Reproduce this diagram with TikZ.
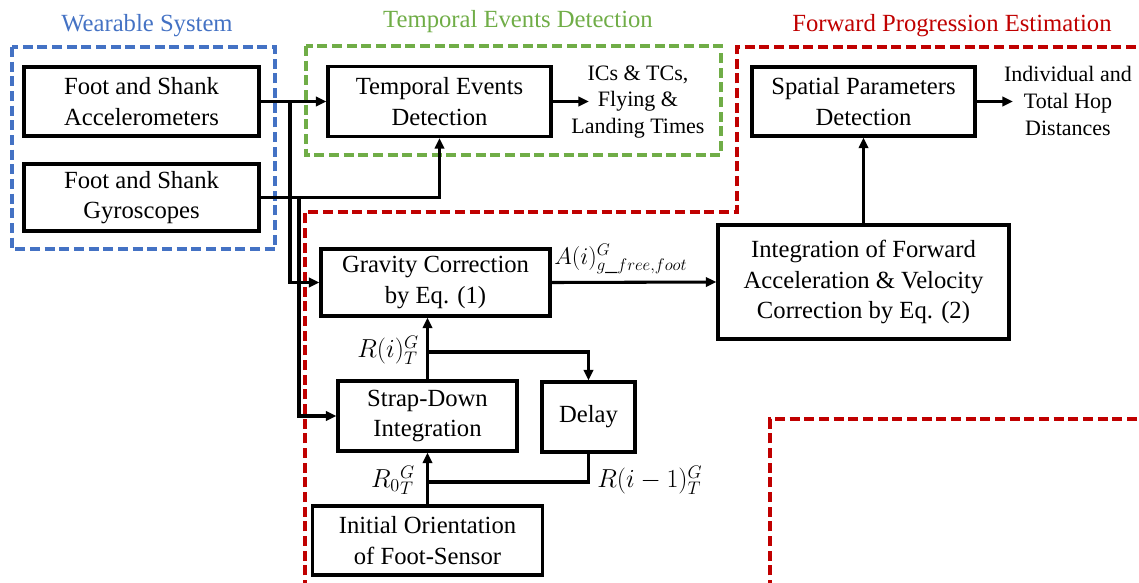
\RequirePackage{fix-cm}
\documentclass[tikz,border=0pt]{standalone}
\usepackage{fontspec}
\setmainfont{Liberation Serif}
\usetikzlibrary{arrows.meta}
\definecolor{wsblue}{HTML}{4472C4}
\definecolor{tegreen}{HTML}{70AD47}
\definecolor{fpred}{HTML}{C00000}
\tikzset{
  blk/.style={draw=black, line width=2.3pt, align=center, inner sep=0pt,
    font=\fontsize{18.5}{23}\selectfont},
  note/.style={align=center, inner sep=0pt, font=\fontsize{16.5}{20}\selectfont},
  mlab/.style={inner sep=0pt, font=\fontsize{19.5}{22}\selectfont},
  title/.style={inner sep=0pt, font=\fontsize{18.5}{23}\selectfont},
  wire/.style={line width=2.3pt, line join=miter},
  arr/.style={wire, -{Triangle[length=8pt,width=7pt]}},
  group/.style={line width=2.6pt, dash pattern=on 7.5pt off 3.5pt},
}
\begin{document}
\begin{tikzpicture}[x=0.75pt,y=-0.75pt]
\useasboundingbox (0,0) rectangle (1139,582);

% group frames
\draw[group, wsblue] (12,47) rectangle (275,249);
\draw[group, tegreen] (306,46) rectangle (721,155);
\begin{scope}
  \clip (0,0) rectangle (1139,582);
  \draw[group, fpred] (305,590) -- (305,212) -- (737,212) -- (737,47) -- (1150,47);
  \draw[group, fpred] (770,590) -- (770,419) -- (1150,419);
\end{scope}

% group titles
\node[title, text=wsblue] (tws) at (147,26) {Wearable System};
\node[title, text=tegreen] (tte) at (518,22) {Temporal Events Detection};
\node[title, text=fpred] (tfp) at (952,26) {Forward Progression Estimation};

% blocks
\node[blk, minimum width=176.25pt, minimum height=51.75pt] (acc) at (141.5,101.5) {Foot and Shank\\Accelerometers};
\node[blk, minimum width=176.25pt, minimum height=50.25pt] (gyr) at (141.5,197.5) {Foot and Shank\\Gyroscopes};
\node[blk, minimum width=167.25pt, minimum height=52.5pt] (ted) at (439.5,101.5) {Temporal Events\\Detection};
\node[blk, minimum width=167.25pt, minimum height=51.75pt] (spd) at (863.5,101.5) {Spatial Parameters\\Detection};
\node[blk, minimum width=171.75pt, minimum height=50.25pt] (grav) at (435.5,282.5) {Gravity Correction\\by Eq. (1)};
\node[blk, minimum width=218.25pt, minimum height=85.5pt] (integ) at (863.5,282) {Integration of Forward\\Acceleration \& Velocity\\Correction by Eq. (2)};
\node[blk, minimum width=134.25pt, minimum height=52.5pt] (strap) at (427.5,416) {Strap-Down\\Integration};
\node[blk, minimum width=69.75pt, minimum height=52.5pt] (delay) at (588.5,417) {Delay};
\node[blk, minimum width=172.5pt, minimum height=51.75pt] (init) at (427.5,540.5) {Initial Orientation\\of Foot-Sensor};

% outputs
\coordinate (tedout) at (589,101.5);
\node[note, anchor=center] (evts) at (638,102) {ICs \& TCs,\\Flying \&\\Landing Times};
\coordinate (spdout) at (1013,101.5);
\node[note, anchor=center] (hops) at (1068,101) {Individual and\\Total Hop\\Distances};

% junction points
\coordinate (jacc) at (290,101.5);
\coordinate (jgyr) at (299,197);
\coordinate (jrot) at (427.5,352);
\coordinate (jdel) at (427.5,482);

% connectors
\draw[arr] (acc.east) -- (ted.west);
\draw[arr] (jacc) |- (grav.west);
\draw[arr] (gyr.east) -| (ted.south);
\draw[arr] (jgyr) |- (strap.west);
\draw[arr] (ted.east) -- (tedout);
\draw[arr] (spd.east) -- (spdout);
\draw[arr] (grav.east) -- (integ.west);
\draw[arr] (integ.north) -- (spd.south);
\draw[arr] (strap.north) -- (strap.north |- grav.south);
\draw[arr] (jrot) -| (delay.north);
\draw[arr] (init.north) -- (strap.south);
\draw[wire] (delay.south) |- (jdel);

% signal labels
\node[mlab, anchor=south west, font=\fontsize{18}{21}\selectfont] (lacc) at (554,274) {$A(i)^{G}_{g\_free,foot}$};
\node[mlab, anchor=east] (lrot) at (419,350) {$R(i)^{G}_{T}$};
\node[mlab, anchor=east] (lr0) at (415,480) {$R_0{}^{G}_{T}$};
\node[mlab, anchor=west] (lrd) at (597,480) {$R(i-1)^{G}_{T}$};
\end{tikzpicture}
\end{document}
